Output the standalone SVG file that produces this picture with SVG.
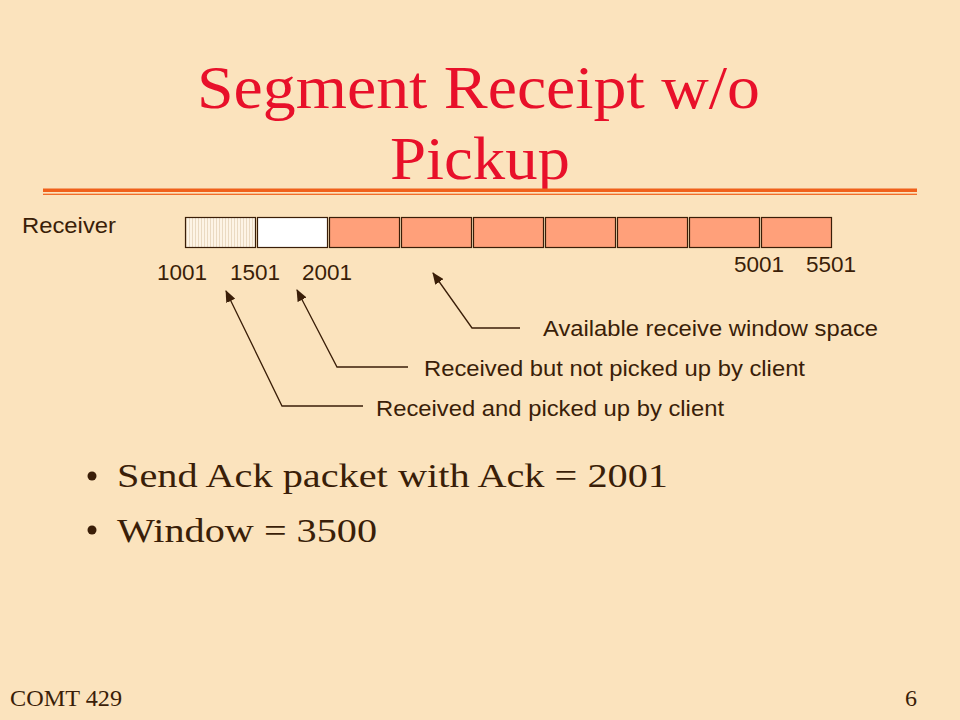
<svg xmlns="http://www.w3.org/2000/svg" width="960" height="720" viewBox="0 0 960 720">
<defs>
<style>
.title{font-family:"Liberation Serif","Times New Roman",serif;font-size:61px;fill:#E8102A}
.sans{font-family:"Liberation Sans",Arial,sans-serif;font-size:22.5px;fill:#3A1E08}
.body{font-family:"Liberation Serif","Times New Roman",serif;font-size:34px;fill:#3A1E08}
.foot{font-family:"Liberation Serif","Times New Roman",serif;font-size:24px;fill:#3A1E08}
.seg{stroke:#3A1E08;stroke-width:1.2}
.free{fill:#FFA07A}
.conn{fill:none;stroke:#3A1E08;stroke-width:1.3}
</style>
<pattern id="hatch" width="3" height="4" patternUnits="userSpaceOnUse">
<rect width="3" height="4" fill="#FDF4E6"/>
<rect width="1" height="4" fill="#EADAC2"/>
</pattern>
<marker id="arr" markerUnits="userSpaceOnUse" markerWidth="12" markerHeight="10" viewBox="0 0 12 10" refX="11" refY="5" orient="auto">
<path d="M0,0 L12,5 L0,10 Z" fill="#3A1E08"/>
</marker>
</defs>
<rect width="960" height="720" fill="#FBE3BD"/>
<g id="title">
<text class="title" x="197" y="108" textLength="563" lengthAdjust="spacingAndGlyphs">Segment Receipt w/o</text>
<text class="title" x="390" y="179" textLength="180" lengthAdjust="spacingAndGlyphs">Pickup</text>
<rect x="43" y="188.5" width="874" height="3.5" fill="#F0601A"/>
<rect x="43" y="193.7" width="874" height="1.2" fill="#F0601A"/>
</g>
<g id="receiver-label">
<text class="sans" x="22" y="233" textLength="94" lengthAdjust="spacingAndGlyphs">Receiver</text>
</g>
<g id="buffer">
<rect class="seg" x="185.5" y="217.5" width="70" height="30" fill="url(#hatch)"/>
<rect class="seg" x="257.5" y="217.5" width="70" height="30" fill="#FFFFFF"/>
<rect class="seg free" x="329.5" y="217.5" width="70" height="30"/>
<rect class="seg free" x="401.5" y="217.5" width="70" height="30"/>
<rect class="seg free" x="473.5" y="217.5" width="70" height="30"/>
<rect class="seg free" x="545.5" y="217.5" width="70" height="30"/>
<rect class="seg free" x="617.5" y="217.5" width="70" height="30"/>
<rect class="seg free" x="689.5" y="217.5" width="70" height="30"/>
<rect class="seg free" x="761.5" y="217.5" width="70" height="30"/>
</g>
<g id="offsets">
<text class="sans" x="157" y="280">1001</text>
<text class="sans" x="230" y="280">1501</text>
<text class="sans" x="302" y="280">2001</text>
<text class="sans" x="734" y="272">5001</text>
<text class="sans" x="806" y="272">5501</text>
</g>
<g id="connectors">
<polyline class="conn" points="520,328 472,328 433,273" marker-end="url(#arr)"/>
<polyline class="conn" points="408,367 337,367 297,290" marker-end="url(#arr)"/>
<polyline class="conn" points="363,406 282,406 226,291" marker-end="url(#arr)"/>
</g>
<g id="label-available">
<text class="sans" x="543" y="336" textLength="335" lengthAdjust="spacingAndGlyphs">Available receive window space</text>
</g>
<g id="label-not-picked">
<text class="sans" x="424" y="376" textLength="381" lengthAdjust="spacingAndGlyphs">Received but not picked up by client</text>
</g>
<g id="label-picked">
<text class="sans" x="376" y="416" textLength="348" lengthAdjust="spacingAndGlyphs">Received and picked up by client</text>
</g>
<g id="bullets">
<circle cx="92" cy="476" r="4.5" fill="#3A1E08"/>
<text class="body" x="117" y="487" textLength="551" lengthAdjust="spacingAndGlyphs">Send Ack packet with Ack = 2001</text>
<circle cx="92" cy="530" r="4.5" fill="#3A1E08"/>
<text class="body" x="117" y="542" textLength="260" lengthAdjust="spacingAndGlyphs">Window = 3500</text>
</g>
<g id="footer">
<text class="foot" x="10" y="706" textLength="112" lengthAdjust="spacingAndGlyphs">COMT 429</text>
<text class="foot" x="905" y="706">6</text>
</g>
</svg>
